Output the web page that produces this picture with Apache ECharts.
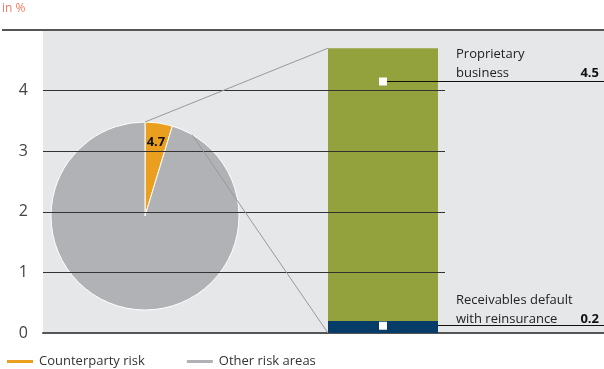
<!DOCTYPE html>
<html>
<head>
<meta charset="utf-8">
<script src="https://cdn.jsdelivr.net/npm/echarts@6/dist/echarts.min.js"></script>
<style>html,body{margin:0;padding:0;background:#fff;}</style>
</head>
<body>
<div id="main" style="width:604px;height:369px;"></div>
<script>
// values
var yTicks = [0, 1, 2, 3, 4, 5];
var pieNames = ['Counterparty risk', 'Other risk areas'];
var pieValues = [4.7, 95.3];
var pieColors = ['#eaa01e', '#b1b2b5'];
var stackNames = ['Receivables default\nwith reinsurance', 'Proprietary\nbusiness'];
var stackValues = [0.2, 4.5];
var stackColors = ['#053c68', '#93a23d'];
var markerValues = [0.12, 4.15]; // where the white squares sit on the bar

// layout (x axis runs in pixels from grid left)
var FONT = 'Open Sans';
var BAR_X = 340, BAR_W = 110, GRID_END = 402, X_MAX = 561;
var PIE_C = [145, 216], PIE_R = 94;

var chart = echarts.init(document.getElementById('main'));

// running totals: each segment drawn from 0 to its top, lower ones on top
var tops = [];
stackValues.reduce(function (acc, v) { tops.push(acc + v); return acc + v; }, 0);
var total = tops[tops.length - 1];

var series = [];
// gridlines, stopping just past the bar
series.push({
    type: 'line', data: [], silent: true, z: 1,
    markLine: {
        silent: true, symbol: 'none', label: {show: false},
        lineStyle: {color: '#333', width: 1, type: 'solid'},
        data: yTicks.slice(1, -1).map(function (v) {
            return [{coord: [0, v]}, {coord: [GRID_END, v]}];
        })
    }
});
stackValues.forEach(function (v, i) {
    series.push({
        type: 'bar', name: stackNames[i], z: 5 - i,
        barWidth: BAR_W, barGap: '-100%', silent: true,
        itemStyle: {color: stackColors[i]},
        data: [[BAR_X, tops[i]]]
    });
});
series.push({
    type: 'pie', center: PIE_C, radius: PIE_R, startAngle: 90, clockwise: true,
    z: 3, silent: true, label: {show: false}, labelLine: {show: false},
    itemStyle: {borderColor: '#fff', borderWidth: 1},
    data: pieNames.map(function (n, i) {
        return {name: n, value: pieValues[i], itemStyle: {color: pieColors[i]}};
    })
});
series.push({
    type: 'scatter', z: 6, silent: true, symbol: 'rect', symbolSize: 8,
    itemStyle: {color: '#fff', opacity: 1},
    data: markerValues.map(function (v) { return [BAR_X, v]; }),
    markLine: {
        silent: true, symbol: 'none', label: {show: false},
        lineStyle: {color: '#111', width: 1, type: 'solid'},
        data: markerValues.map(function (v) {
            return [{coord: [BAR_X + 4, v]}, {coord: [X_MAX, v]}];
        })
    }
});

chart.setOption({
    animation: false,
    color: pieColors,
    grid: {left: 43, right: 0, top: 30, bottom: 36, show: true,
        backgroundColor: '#e6e7e9', borderWidth: 0},
    legend: {
        left: 0, top: 350, itemWidth: 28, itemHeight: 5, itemGap: 40,
        icon: 'rect', data: pieNames,
        textStyle: {fontFamily: FONT, fontSize: 13, color: '#333'}
    },
    xAxis: {
        type: 'value', min: 0, max: X_MAX,
        axisLabel: {show: false}, axisTick: {show: false}, splitLine: {show: false},
        axisLine: {show: true, lineStyle: {color: '#555', width: 2}}
    },
    yAxis: {
        type: 'value', min: 0, max: 5, interval: 1,
        axisLine: {show: false}, axisTick: {show: false}, splitLine: {show: false},
        axisLabel: {
            margin: 15, fontFamily: FONT, fontSize: 16, color: '#444',
            formatter: function (v) { return v === 5 ? '' : v; }
        }
    },
    series: series
});

// decorations tied to the scales
function px(x, y) { return chart.convertToPixel({gridIndex: 0}, [x, y]); }
var barLeft = px(BAR_X, 0)[0] - BAR_W / 2;
var pieTop = [PIE_C[0], PIE_C[1] - PIE_R];
var a2 = 30 * Math.PI / 180;
var pieSide = [PIE_C[0] + PIE_R * Math.sin(a2), PIE_C[1] - PIE_R * Math.cos(a2)];
var midA = (pieValues[0] / 2 / 100) * 2 * Math.PI;
var sliceLbl = [PIE_C[0] + PIE_R * 0.79 * Math.sin(midA), PIE_C[1] - PIE_R * 0.79 * Math.cos(midA)];

var g = [];
g.push({type: 'line', silent: true, z: 10,
    shape: {x1: 2, y1: px(0, 5)[1], x2: 604, y2: px(0, 5)[1]},
    style: {stroke: '#555', lineWidth: 2}});
g.push({type: 'line', silent: true, z: 10,
    shape: {x1: pieTop[0], y1: pieTop[1], x2: barLeft, y2: px(0, total)[1]},
    style: {stroke: '#999', lineWidth: 1}});
g.push({type: 'line', silent: true, z: 10,
    shape: {x1: pieSide[0], y1: pieSide[1], x2: barLeft, y2: px(0, 0)[1]},
    style: {stroke: '#999', lineWidth: 1}});
g.push({type: 'text', silent: true, z: 10, left: 2, top: 3,
    style: {text: 'in %', fontFamily: FONT, fontSize: 12, fill: '#f07c66'}});
g.push({type: 'text', silent: true, z: 10, x: sliceLbl[0], y: sliceLbl[1],
    style: {text: String(pieValues[0]), fontFamily: FONT, fontSize: 13, fontWeight: 'bold',
        fill: '#111', textAlign: 'center', textVerticalAlign: 'middle'}});
var shift = [3, 1];
markerValues.forEach(function (v, i) {
    var y = px(0, v)[1] + shift[i];
    g.push({type: 'text', silent: true, z: 10, x: 456, y: y,
        style: {text: stackNames[i], fontFamily: FONT, fontSize: 13, lineHeight: 19,
            fill: '#222', textAlign: 'left', textVerticalAlign: 'bottom'}});
    g.push({type: 'text', silent: true, z: 10, x: 599, y: y,
        style: {text: String(stackValues[i]), fontFamily: FONT, fontSize: 13, fontWeight: 'bold',
            lineHeight: 19, fill: '#111', textAlign: 'right', textVerticalAlign: 'bottom'}});
});
chart.setOption({graphic: g});
</script>
</body>
</html>
